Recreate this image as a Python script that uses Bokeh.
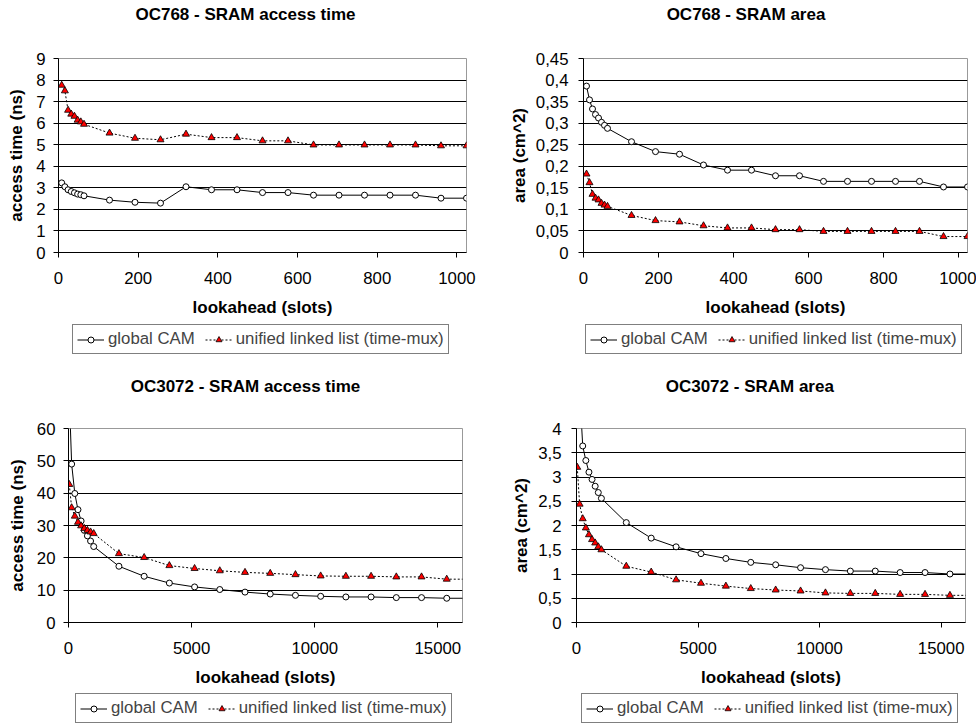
from bokeh.plotting import figure
from bokeh.models import Legend, LegendItem, FixedTicker, CustomJSTickFormatter, Range1d, Label
from bokeh.layouts import column, row
from bokeh.embed import file_html
from bokeh.resources import INLINE

FONT = "Liberation Sans"

# ---- data ----
x768 = [8, 16, 24, 32, 40, 48, 56, 64, 128, 192, 256, 320, 384, 448, 512, 576,
        640, 704, 768, 832, 896, 960, 1024]
at768_cam = [3.23, 3.05, 2.91, 2.83, 2.77, 2.71, 2.68, 2.63, 2.43, 2.33, 2.29, 3.05,
             2.91, 2.91, 2.78, 2.78, 2.66, 2.66, 2.66, 2.66, 2.66, 2.52, 2.52]
at768_ll = [7.76, 7.5, 6.6, 6.42, 6.32, 6.14, 6.06, 5.95, 5.54, 5.30, 5.23, 5.49,
            5.33, 5.33, 5.18, 5.18, 4.99, 4.99, 4.99, 4.99, 4.99, 4.95, 4.95]
area768_cam = [0.386, 0.354, 0.333, 0.320, 0.312, 0.302, 0.295, 0.288, 0.257, 0.234,
               0.228, 0.203, 0.191, 0.191, 0.178, 0.178, 0.165, 0.165, 0.165, 0.165,
               0.165, 0.152, 0.152]
area768_ll = [0.182, 0.162, 0.135, 0.126, 0.122, 0.114, 0.110, 0.107, 0.086, 0.074,
              0.071, 0.062, 0.057, 0.057, 0.053, 0.053, 0.049, 0.049, 0.049, 0.049,
              0.049, 0.037, 0.037]

x3072 = [32, 128, 256, 384, 512, 640, 768, 896, 1024, 2048, 3072, 4096, 5120, 6144,
         7168, 8192, 9216, 10240, 11264, 12288, 13312, 14336, 15360, 16384]
at3072_cam = [70.0, 49.0, 39.9, 34.9, 31.4, 28.5, 26.8, 25.2, 23.5, 17.4, 14.3, 12.2,
              11.0, 10.2, 9.4, 8.8, 8.4, 8.1, 7.9, 7.9, 7.7, 7.7, 7.5, 7.5]
at3072_ll = [42.7, 35.5, 32.9, 31.0, 29.9, 29.1, 28.5, 28.0, 27.5, 21.3, 20.1, 17.6,
             16.7, 16.0, 15.5, 15.2, 14.8, 14.4, 14.3, 14.3, 14.1, 14.1, 13.4, 13.4]
area3072_cam = [7.0, 4.8, 3.64, 3.34, 3.10, 2.95, 2.81, 2.68, 2.56, 2.06, 1.74, 1.56,
                1.42, 1.32, 1.24, 1.19, 1.13, 1.09, 1.06, 1.06, 1.03, 1.03, 1.00, 1.00]
area3072_ll = [3.2, 2.44, 2.14, 1.95, 1.81, 1.71, 1.64, 1.56, 1.50, 1.16, 1.04, 0.88,
               0.81, 0.75, 0.70, 0.67, 0.65, 0.61, 0.60, 0.60, 0.58, 0.58, 0.56, 0.56]

xticks_768 = [0, 200, 400, 600, 800, 1000]
xticks_3072 = [0, 5000, 10000, 15000]
yticks_at768 = [0, 1, 2, 3, 4, 5, 6, 7, 8, 9]
yticks_area768 = [0, 0.05, 0.1, 0.15, 0.2, 0.25, 0.3, 0.35, 0.4, 0.45]
yticks_at3072 = [0, 10, 20, 30, 40, 50, 60]
yticks_area3072 = [0, 0.5, 1, 1.5, 2, 2.5, 3, 3.5, 4]

series_names = ["global CAM", "unified linked list (time-mux)"]
titles = ["OC768 - SRAM access time", "OC768 - SRAM area",
          "OC3072 - SRAM access time", "OC3072 - SRAM area"]
ylabels = ["access time (ns)", "area (cm^2)", "access time (ns)", "area (cm^2)"]
xlabel = "lookahead (slots)"

COMMA_FMT = CustomJSTickFormatter(code="""
var s = tick.toFixed(2);
s = s.replace(/0+$/, '').replace(/\\.$/, '');
return s.replace('.', ',');
""")


def cam_series(p, xs, ys):
    l = p.line(xs, ys, line_color="black", line_width=1)
    s = p.scatter(xs, ys, marker="circle", size=6, fill_color="white",
                  line_color="black", line_width=1)
    return l, s


def ll_series(p, xs, ys):
    l = p.line(xs, ys, line_color="black", line_width=1, line_dash="2 2")
    s = p.scatter(xs, ys, marker="triangle", size=7, fill_color="#FF0000",
                  line_color="black", line_width=0.8)
    return l, s


def blank(width, height, xr, yr):
    q = figure(width=width, height=height, output_backend="svg", toolbar_location=None,
               x_range=Range1d(0, xr), y_range=Range1d(0, yr),
               x_axis_type=None, y_axis_type=None,
               min_border_left=0, min_border_right=0, min_border_top=0,
               min_border_bottom=0, background_fill_color="white",
               border_fill_color="white")
    q.outline_line_color = None
    q.xgrid.visible = False
    q.ygrid.visible = False
    return q


def make_title(text, width, height, fw, tx, ty):
    q = blank(width, height, fw, height)
    q.add_layout(Label(x=tx, y=ty, text=text, text_font=FONT, text_font_size="17px",
                       text_font_style="bold", text_align="center",
                       text_baseline="middle", text_color="black"))
    return q


def make_chart(ylabel, xs, cam, ll, xmax, xticks, ymax, yticks, width, height,
               bl, br, ylstand, yastand):
    p = figure(width=width, height=height, output_backend="svg", toolbar_location=None,
               x_range=Range1d(0, xmax), y_range=Range1d(0, ymax),
               min_border_left=bl, min_border_right=br, min_border_top=10,
               min_border_bottom=70, background_fill_color="white",
               border_fill_color="white")
    cam_series(p, xs, cam)
    ll_series(p, xs, ll)
    for ax in (p.xaxis[0], p.yaxis[0]):
        ax.axis_label_text_font = FONT
        ax.axis_label_text_font_size = "17px"
        ax.axis_label_text_font_style = "bold"
        ax.axis_label_text_color = "black"
        ax.major_label_text_font = FONT
        ax.major_label_text_font_size = "16.8px"
        ax.major_label_text_color = "black"
        ax.axis_line_color = "black"
        ax.major_tick_line_color = "black"
        ax.major_tick_in = 0
        ax.major_tick_out = 5
        ax.minor_tick_in = 0
        ax.minor_tick_out = 0
    p.xaxis.axis_label = xlabel
    p.yaxis.axis_label = ylabel
    p.xaxis.ticker = FixedTicker(ticks=xticks)
    p.yaxis.ticker = FixedTicker(ticks=yticks)
    p.yaxis.formatter = COMMA_FMT
    p.xaxis.major_label_standoff = 14
    p.xaxis.axis_label_standoff = 11
    p.yaxis.major_label_standoff = ylstand
    p.yaxis.axis_label_standoff = yastand
    p.xgrid.visible = False
    p.ygrid.grid_line_color = "black"
    p.ygrid.grid_line_width = 1
    p.outline_line_color = "#999999"
    return p


def make_legend(width, height, lx, ly):
    q = blank(width, height, 1, 1)
    l1, s1 = cam_series(q, [-5], [-5])
    l2, s2 = ll_series(q, [-5], [-5])
    legend = Legend(items=[LegendItem(label=series_names[0], renderers=[l1, s1]),
                           LegendItem(label=series_names[1], renderers=[l2, s2])],
                    orientation="horizontal", location=(lx, ly),
                    border_line_color="black", border_line_width=1,
                    padding=4, spacing=10, glyph_width=27, glyph_height=15,
                    label_height=15, label_standoff=4, label_text_font=FONT,
                    label_text_font_size="16.8px", margin=0,
                    background_fill_color="white", background_fill_alpha=1.0)
    q.add_layout(legend, "center")
    return q


# top-left
t1 = make_title(titles[0], 488, 48, 408, 187, 34)
p1 = make_chart(ylabels[0], x768, at768_cam, at768_ll, 1024, xticks_768, 9,
                yticks_at768, 488, 274, 58, 22, 8, 7)
g1 = make_legend(488, 50, 14, 18)
# top-right
t2 = make_title(titles[1], 488, 48, 384, 162.5, 34)
p2 = make_chart(ylabels[1], x768, area768_cam, area768_ll, 1024, xticks_768, 0.45,
                yticks_area768, 488, 274, 95, 9, 10, 4)
g2 = make_legend(488, 50, 2, 18)
# bottom-left
t3 = make_title(titles[2], 488, 46, 394, 177, 32.5)
p3 = make_chart(ylabels[2], x3072, at3072_cam, at3072_ll, 16000, xticks_3072, 60,
                yticks_at3072, 488, 274, 68, 26, 8, 7)
g3 = make_legend(488, 32, 7, 1)
# bottom-right
t4 = make_title(titles[3], 488, 46, 389, 173.3, 32.5)
p4 = make_chart(ylabels[3], x3072, area3072_cam, area3072_ll, 16000, xticks_3072, 4,
                yticks_area3072, 488, 274, 88, 11, 10, 4)
g4 = make_legend(488, 32, 5, 1)

layout = column(row(column(t1, p1, g1), column(t2, p2, g2)),
                row(column(t3, p3, g3), column(t4, p4, g4)))
open("out.html", "w").write(file_html(layout, INLINE))
